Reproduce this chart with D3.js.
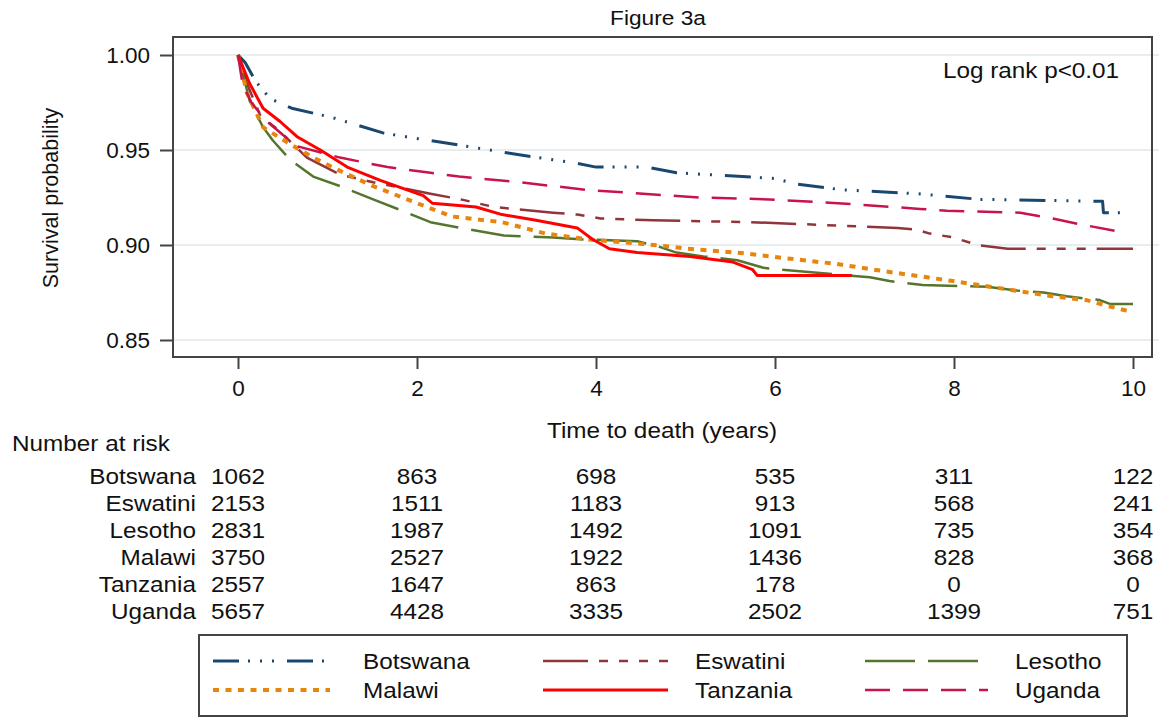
<!DOCTYPE html>
<html>
<head>
<meta charset="utf-8">
<script src="https://cdn.jsdelivr.net/npm/d3@7"></script>
<style>
  body { margin: 0; background: #fff; }
  text { font-family: "Liberation Sans", Arial, sans-serif; fill: #111; }
</style>
</head>
<body>
<div id="chart"></div>
<script>
// Kaplan-Meier estimates: [years, survival]
const botswana = [[0,1],[0.08,0.996],[0.2,0.986],[0.36,0.977],[0.6,0.972],[1.06,0.967],[1.62,0.959],[2.0,0.956],[2.29,0.954],[3.07,0.948],[3.79,0.943],[4.0,0.941],[4.57,0.941],[4.9,0.938],[6.0,0.935],[6.25,0.932],[6.76,0.929],[7.59,0.927],[8.29,0.924],[9.66,0.923],[9.67,0.917],[9.93,0.917]];
const eswatini = [[0,1],[0.1,0.985],[0.25,0.968],[0.44,0.961],[0.77,0.946],[1.14,0.937],[1.51,0.933],[2.15,0.927],[2.49,0.924],[2.86,0.920],[3.07,0.919],[3.52,0.917],[3.79,0.916],[4.05,0.914],[4.64,0.913],[5.73,0.912],[6.29,0.911],[7.37,0.909],[7.59,0.908],[7.73,0.906],[7.99,0.904],[8.26,0.900],[8.6,0.898],[10.0,0.898]];
const lesotho = [[0,1],[0.13,0.976],[0.28,0.962],[0.39,0.955],[0.58,0.945],[0.84,0.936],[1.14,0.931],[1.51,0.924],[1.89,0.917],[2.15,0.912],[2.49,0.909],[2.97,0.905],[3.52,0.904],[3.82,0.903],[4.46,0.902],[4.71,0.899],[4.9,0.896],[5.2,0.894],[5.58,0.892],[5.87,0.888],[6.06,0.887],[7.06,0.883],[7.28,0.881],[7.65,0.879],[8.37,0.878],[8.7,0.876],[9.0,0.875],[9.26,0.873],[9.44,0.872],[9.63,0.871],[9.74,0.869],[10.0,0.869]];
const malawi = [[0,1],[0.1,0.98],[0.28,0.962],[0.55,0.954],[0.84,0.946],[1.14,0.939],[1.51,0.931],[2.0,0.922],[2.39,0.915],[2.95,0.912],[3.44,0.906],[3.9,0.903],[4.41,0.901],[4.86,0.899],[5.02,0.898],[5.58,0.896],[6.13,0.893],[6.69,0.890],[7.25,0.886],[7.7,0.883],[7.99,0.881],[8.55,0.877],[9.1,0.873],[9.48,0.871],[9.71,0.868],[9.97,0.865],[10.0,0.865]];
const tanzania = [[0,1],[0.13,0.985],[0.28,0.972],[0.47,0.965],[0.66,0.957],[0.92,0.950],[1.22,0.941],[1.59,0.934],[2.07,0.926],[2.17,0.922],[2.66,0.920],[2.95,0.916],[3.33,0.913],[3.79,0.909],[3.96,0.903],[4.15,0.898],[4.46,0.896],[5.05,0.894],[5.53,0.891],[5.75,0.887],[5.8,0.884],[6.86,0.884]];
const uganda = [[0,1],[0.05,0.985],[0.15,0.975],[0.3,0.966],[0.5,0.958],[0.66,0.952],[1.14,0.946],[1.67,0.941],[2.15,0.938],[2.47,0.936],[3.15,0.933],[3.9,0.929],[4.83,0.926],[5.16,0.925],[5.94,0.924],[6.7,0.922],[7.62,0.919],[7.92,0.918],[8.74,0.917],[9.1,0.914],[9.4,0.911],[9.85,0.907],[9.92,0.906]];

const countries = ["Botswana", "Eswatini", "Lesotho", "Malawi", "Tanzania", "Uganda"];
const riskTimes = [0, 2, 4, 6, 8, 10];
const riskBotswana = [1062, 863, 698, 535, 311, 122];
const riskEswatini = [2153, 1511, 1183, 913, 568, 241];
const riskLesotho = [2831, 1987, 1492, 1091, 735, 354];
const riskMalawi = [3750, 2527, 1922, 1436, 828, 368];
const riskTanzania = [2557, 1647, 863, 178, 0, 0];
const riskUganda = [5657, 4428, 3335, 2502, 1399, 751];
const xTicks = [0, 2, 4, 6, 8, 10];
const yTicks = [0.85, 0.90, 0.95, 1.00];

const series = [botswana, eswatini, lesotho, malawi, tanzania, uganda];
const risks = [riskBotswana, riskEswatini, riskLesotho, riskMalawi, riskTanzania, riskUganda];
const styles = [
    { color: "#1a476f", width: 3, dash: "26,9,2,10,2,10,2,13" },
    { color: "#90353b", width: 2.5, dash: "45,11,9,11,9,11,9,11" },
    { color: "#55752f", width: 2.5, dash: "50,13" },
    { color: "#e8850c", width: 4, dash: "6,6.5" },
    { color: "#ff0000", width: 3, dash: null },
    { color: "#c8144a", width: 2.5, dash: "25,13" }
];

const W = 1159, H = 719;
const frame = { left: 173, right: 1152, top: 37, bottom: 357 };
const stretch = "scale(1.08,1)";

const svg = d3.select("#chart").append("svg")
    .attr("width", W)
    .attr("height", H);

const x = d3.scaleLinear().domain([0, 10]).range([238, 1133]);
const y = d3.scaleLinear().domain([0.85, 1.0]).range([340, 55]);

function label(tx, ty, txt, size, anchor) {
    return svg.append("text")
        .attr("transform", "translate(" + tx + "," + ty + ") " + stretch)
        .attr("text-anchor", anchor || "start")
        .attr("dy", "0.35em")
        .style("font-size", size + "px")
        .text(txt);
}

// grid lines
svg.append("g").selectAll("line")
    .data(yTicks)
    .enter().append("line")
    .attr("x1", frame.left).attr("x2", W)
    .attr("y1", d => y(d)).attr("y2", d => y(d))
    .attr("stroke", "#e6eef1")
    .attr("stroke-width", 2);

// curves
const line = d3.line()
    .x(d => x(d[0]))
    .y(d => y(d[1]));

series.forEach(function(s, i) {
    svg.append("path")
        .datum(s)
        .attr("fill", "none")
        .attr("stroke", styles[i].color)
        .attr("stroke-width", styles[i].width)
        .attr("stroke-dasharray", styles[i].dash)
        .attr("stroke-linejoin", "round")
        .attr("d", line);
});

// plot frame
svg.append("rect")
    .attr("x", frame.left).attr("y", frame.top)
    .attr("width", frame.right - frame.left).attr("height", frame.bottom - frame.top)
    .attr("fill", "none")
    .attr("stroke", "#444")
    .attr("stroke-width", 2);

// Y axis
const yAxis = svg.append("g")
    .attr("transform", "translate(" + frame.left + ",0)")
    .call(d3.axisLeft(y).tickValues(yTicks).tickFormat(d3.format(".2f")).tickSize(13).tickPadding(10));
yAxis.select(".domain").remove();
yAxis.selectAll("line").attr("stroke", "#444").attr("stroke-width", 2);
yAxis.selectAll("text").style("font-size", "22.5px").attr("fill", "#111")
    .attr("font-family", null);

// X axis
const xAxis = svg.append("g")
    .attr("transform", "translate(0," + frame.bottom + ")")
    .call(d3.axisBottom(x).tickValues(xTicks).tickFormat(d3.format("d")).tickSize(12).tickPadding(11));
xAxis.select(".domain").remove();
xAxis.selectAll("line").attr("stroke", "#444").attr("stroke-width", 2);
xAxis.selectAll("text").style("font-size", "22.5px").attr("fill", "#111")
    .attr("font-family", null);

// titles
label(658, 18, "Figure 3a", 21, "middle");
label(1031, 70, "Log rank p<0.01", 22.5, "middle");
label(662, 430, "Time to death (years)", 22.5, "middle");
svg.append("text")
    .attr("transform", "translate(50,198) rotate(-90)")
    .attr("text-anchor", "middle")
    .attr("dy", "0.35em")
    .style("font-size", "21.5px")
    .text("Survival probability");

// number at risk table
label(12, 443, "Number at risk", 22.5, "start");
countries.forEach(function(c, i) {
    const ry = 476 + i * 27;
    label(196, ry, c, 22.5, "end");
    risks[i].forEach(function(v, j) {
        label(x(riskTimes[j]), ry, v, 22.5, "middle");
    });
});

// legend
svg.append("rect")
    .attr("x", 199).attr("y", 635)
    .attr("width", 928).attr("height", 81)
    .attr("fill", "#fff")
    .attr("stroke", "#444")
    .attr("stroke-width", 2);

const legCols = [{ x1: 213, x2: 330, tx: 363 }, { x1: 543, x2: 668, tx: 695 }, { x1: 865, x2: 988, tx: 1015 }];
countries.forEach(function(c, i) {
    const col = legCols[i % 3];
    const ly = i < 3 ? 661 : 690;
    svg.append("line")
        .attr("x1", col.x1).attr("x2", col.x2)
        .attr("y1", ly).attr("y2", ly)
        .attr("stroke", styles[i].color)
        .attr("stroke-width", styles[i].width)
        .attr("stroke-dasharray", styles[i].dash);
    label(col.tx, ly, c, 22.5, "start");
});
</script>
</body>
</html>
